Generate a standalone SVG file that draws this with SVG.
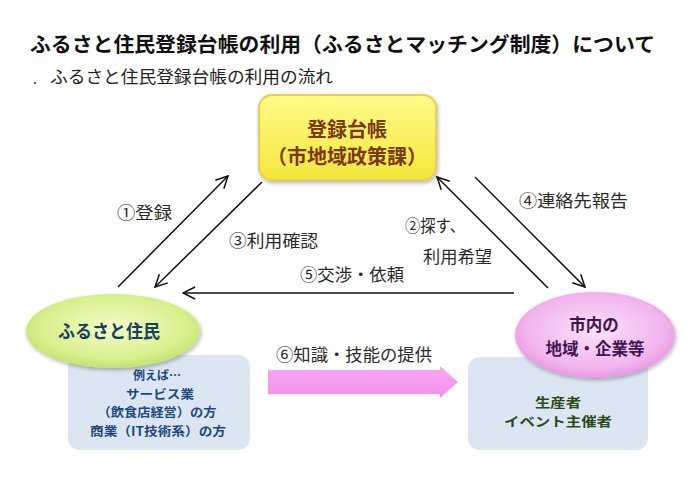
<svg xmlns="http://www.w3.org/2000/svg" width="699" height="484" viewBox="0 0 699 484">
<defs>
<style>
.t{font-family:"Noto Sans CJK JP","Noto Sans",sans-serif}
.lbl{font-family:"Noto Sans CJK JP",sans-serif;font-size:17px;fill:#2a2a2a}
.ln{stroke:#111;stroke-width:1.5;fill:none}
.bx{font-family:"Noto Sans CJK JP",sans-serif;font-size:12.5px;font-weight:bold;fill:#1f497d}
.gx{font-family:"Noto Sans CJK JP",sans-serif;font-size:13px;font-weight:bold;fill:#2a4a1a}
</style>
<marker id="ah" viewBox="0 0 14 14" refX="13" refY="7" markerWidth="14" markerHeight="14" markerUnits="userSpaceOnUse" orient="auto">
<path d="M1,1 L13,7 L1,13" fill="none" stroke="#111" stroke-width="1.5"/>
</marker>
<linearGradient id="gy" x1="0" y1="0" x2="0" y2="1">
<stop offset="0" stop-color="#fffb8a"/>
<stop offset="1" stop-color="#f3e63a"/>
</linearGradient>
<radialGradient id="gg" cx="0.5" cy="0.45" r="0.6">
<stop offset="0" stop-color="#f4fbc8"/>
<stop offset="0.7" stop-color="#d8f08e"/>
<stop offset="1" stop-color="#b9de62"/>
</radialGradient>
<radialGradient id="gp" cx="0.5" cy="0.45" r="0.6">
<stop offset="0" stop-color="#fbe0f8"/>
<stop offset="0.7" stop-color="#f2b6ee"/>
<stop offset="1" stop-color="#e28fdc"/>
</radialGradient>
<linearGradient id="gpa" x1="0" y1="0" x2="0" y2="1">
<stop offset="0" stop-color="#f9a8f3"/>
<stop offset="1" stop-color="#f28fea"/>
</linearGradient>
<filter id="sh" x="-20%" y="-20%" width="140%" height="140%">
<feGaussianBlur in="SourceAlpha" stdDeviation="2"/>
<feOffset dx="1" dy="2"/>
<feComponentTransfer><feFuncA type="linear" slope="0.3"/></feComponentTransfer>
<feMerge><feMergeNode/><feMergeNode in="SourceGraphic"/></feMerge>
</filter>
</defs>
<rect width="699" height="484" fill="#fff"/>
<text class="t" x="30" y="52" font-size="20.5" font-weight="bold" fill="#111" textLength="625" lengthAdjust="spacingAndGlyphs">ふるさと住民登録台帳の利用（ふるさとマッチング制度）について</text>
<text class="t" x="33" y="84" font-size="14" fill="#333">.</text>
<text class="t" x="50" y="83" font-size="16.5" fill="#222" textLength="283" lengthAdjust="spacingAndGlyphs">ふるさと住民登録台帳の利用の流れ</text>

<g id="connectors">
<line class="ln" x1="118" y1="287" x2="228" y2="176" marker-end="url(#ah)"/>
<line class="ln" x1="262" y1="182" x2="155" y2="287" marker-end="url(#ah)"/>
<line class="ln" x1="514" y1="293" x2="183" y2="293" marker-end="url(#ah)"/>
<line class="ln" x1="548" y1="288" x2="437" y2="177" marker-end="url(#ah)"/>
<line class="ln" x1="475" y1="177" x2="585" y2="287" marker-end="url(#ah)"/>
<path d="M268,370 H440 V366 L458,382 L440,398 V394 H268 Z" fill="url(#gpa)"/>
<text class="lbl" x="117" y="219" textLength="55" lengthAdjust="spacingAndGlyphs">①登録</text>
<text class="lbl" x="229" y="247" textLength="89" lengthAdjust="spacingAndGlyphs">③利用確認</text>
<text class="lbl" x="300" y="281" textLength="104" lengthAdjust="spacingAndGlyphs">⑤交渉・依頼</text>
<text class="lbl" x="405" y="232" textLength="60" lengthAdjust="spacingAndGlyphs">②探す、</text>
<text class="lbl" x="423" y="263" textLength="69" lengthAdjust="spacingAndGlyphs">利用希望</text>
<text class="lbl" x="519" y="207" textLength="109" lengthAdjust="spacingAndGlyphs">④連絡先報告</text>
<text class="lbl" x="276" y="361" textLength="156" lengthAdjust="spacingAndGlyphs">⑥知識・技能の提供</text>
</g>

<g id="registry">
<rect x="259" y="95" width="177" height="85" rx="13" fill="url(#gy)" stroke="#e9cf55" stroke-width="2" filter="url(#sh)"/>
<text class="t" x="347" y="137" font-size="20" font-weight="bold" fill="#7b3a12" text-anchor="middle">登録台帳</text>
<text class="t" x="347" y="164" font-size="20" font-weight="bold" fill="#7b3a12" text-anchor="middle">（市地域政策課）</text>
</g>

<g id="resident">
<rect x="68" y="355" width="182" height="95" rx="12" fill="#dce6f2"/>
<ellipse cx="113" cy="331" rx="87" ry="37" fill="url(#gg)" filter="url(#sh)"/>
<text class="t" x="109" y="338" font-size="18" font-weight="bold" fill="#17415a" text-anchor="middle" textLength="102" lengthAdjust="spacingAndGlyphs">ふるさと住民</text>
<text class="bx" x="157" y="380" fill="#111" text-anchor="middle" font-size="13.5" textLength="48" lengthAdjust="spacingAndGlyphs">例えば…</text>
<text class="bx" x="160" y="398.5" text-anchor="middle" textLength="68" lengthAdjust="spacingAndGlyphs">サービス業</text>
<text class="bx" x="157" y="417" text-anchor="middle" textLength="119" lengthAdjust="spacingAndGlyphs">（飲食店経営）の方</text>
<text class="bx" x="158" y="435.5" text-anchor="middle" textLength="136" lengthAdjust="spacingAndGlyphs">商業（IT技術系）の方</text>
</g>

<g id="local">
<rect x="468" y="357" width="180" height="93" rx="12" fill="#dce6f2"/>
<ellipse cx="595" cy="335" rx="80" ry="43" fill="url(#gp)" filter="url(#sh)"/>
<text class="t" x="594" y="331" font-size="16.5" font-weight="bold" fill="#3e1550" text-anchor="middle">市内の</text>
<text class="t" x="595" y="355" font-size="16.5" font-weight="bold" fill="#3e1550" text-anchor="middle">地域・企業等</text>
<text class="gx" x="558" y="407" text-anchor="middle" textLength="46" lengthAdjust="spacingAndGlyphs">生産者</text>
<text class="gx" x="558" y="426" text-anchor="middle" textLength="108" lengthAdjust="spacingAndGlyphs">イベント主催者</text>
</g>
</svg>
